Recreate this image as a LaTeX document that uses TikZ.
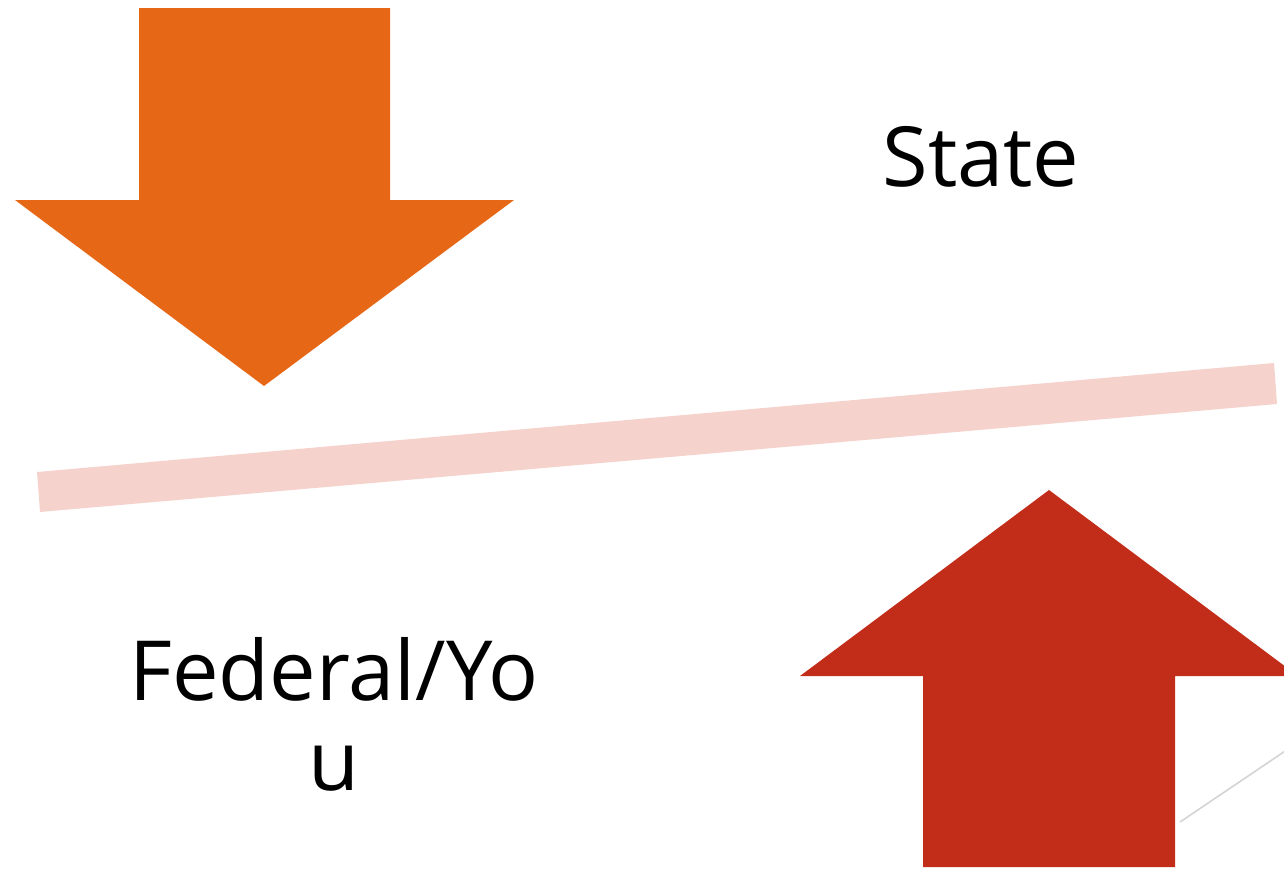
\documentclass[tikz,border=0pt]{standalone}
\usepackage{fontspec}
\setmainfont{Open Sans}
\definecolor{arrowOrange}{HTML}{E66816}
\definecolor{arrowRed}{HTML}{C22D1A}
\definecolor{barPink}{HTML}{F6D2CC}
\definecolor{thinGray}{HTML}{D4D4D4}
\tikzset{
  label text/.style={font=\fontsize{83}{90}\selectfont, text=black, inner sep=0pt, align=center},
}
\begin{document}
\begin{tikzpicture}[x=1pt,y=-1pt]
\useasboundingbox (0,0) rectangle (1284,870);
\begin{scope}
\clip (0,0) rectangle (1284,870);
% thin gray line
\draw[thinGray, line width=1.6pt] (1180,822) -- (1300,741);
% pink bar
\fill[barPink] (37,472) -- (40,512) -- (1277,404) -- (1274,363) -- cycle;
% orange down arrow
\fill[arrowOrange] (139,8) -- (390,8) -- (390,200) -- (514,200) -- (264,386) -- (15,200) -- (139,200) -- cycle;
% red up arrow
\fill[arrowRed] (923,867) -- (1175,867) -- (1175,676) -- (1298,676) -- (1049,490) -- (800,676) -- (923,676) -- cycle;
\end{scope}
\node[label text, anchor=base] (state) at (981,186) {State};
\node[label text, anchor=base] (federal) at (334,790) {Federal/Yo\\u};
\end{tikzpicture}
\end{document}
